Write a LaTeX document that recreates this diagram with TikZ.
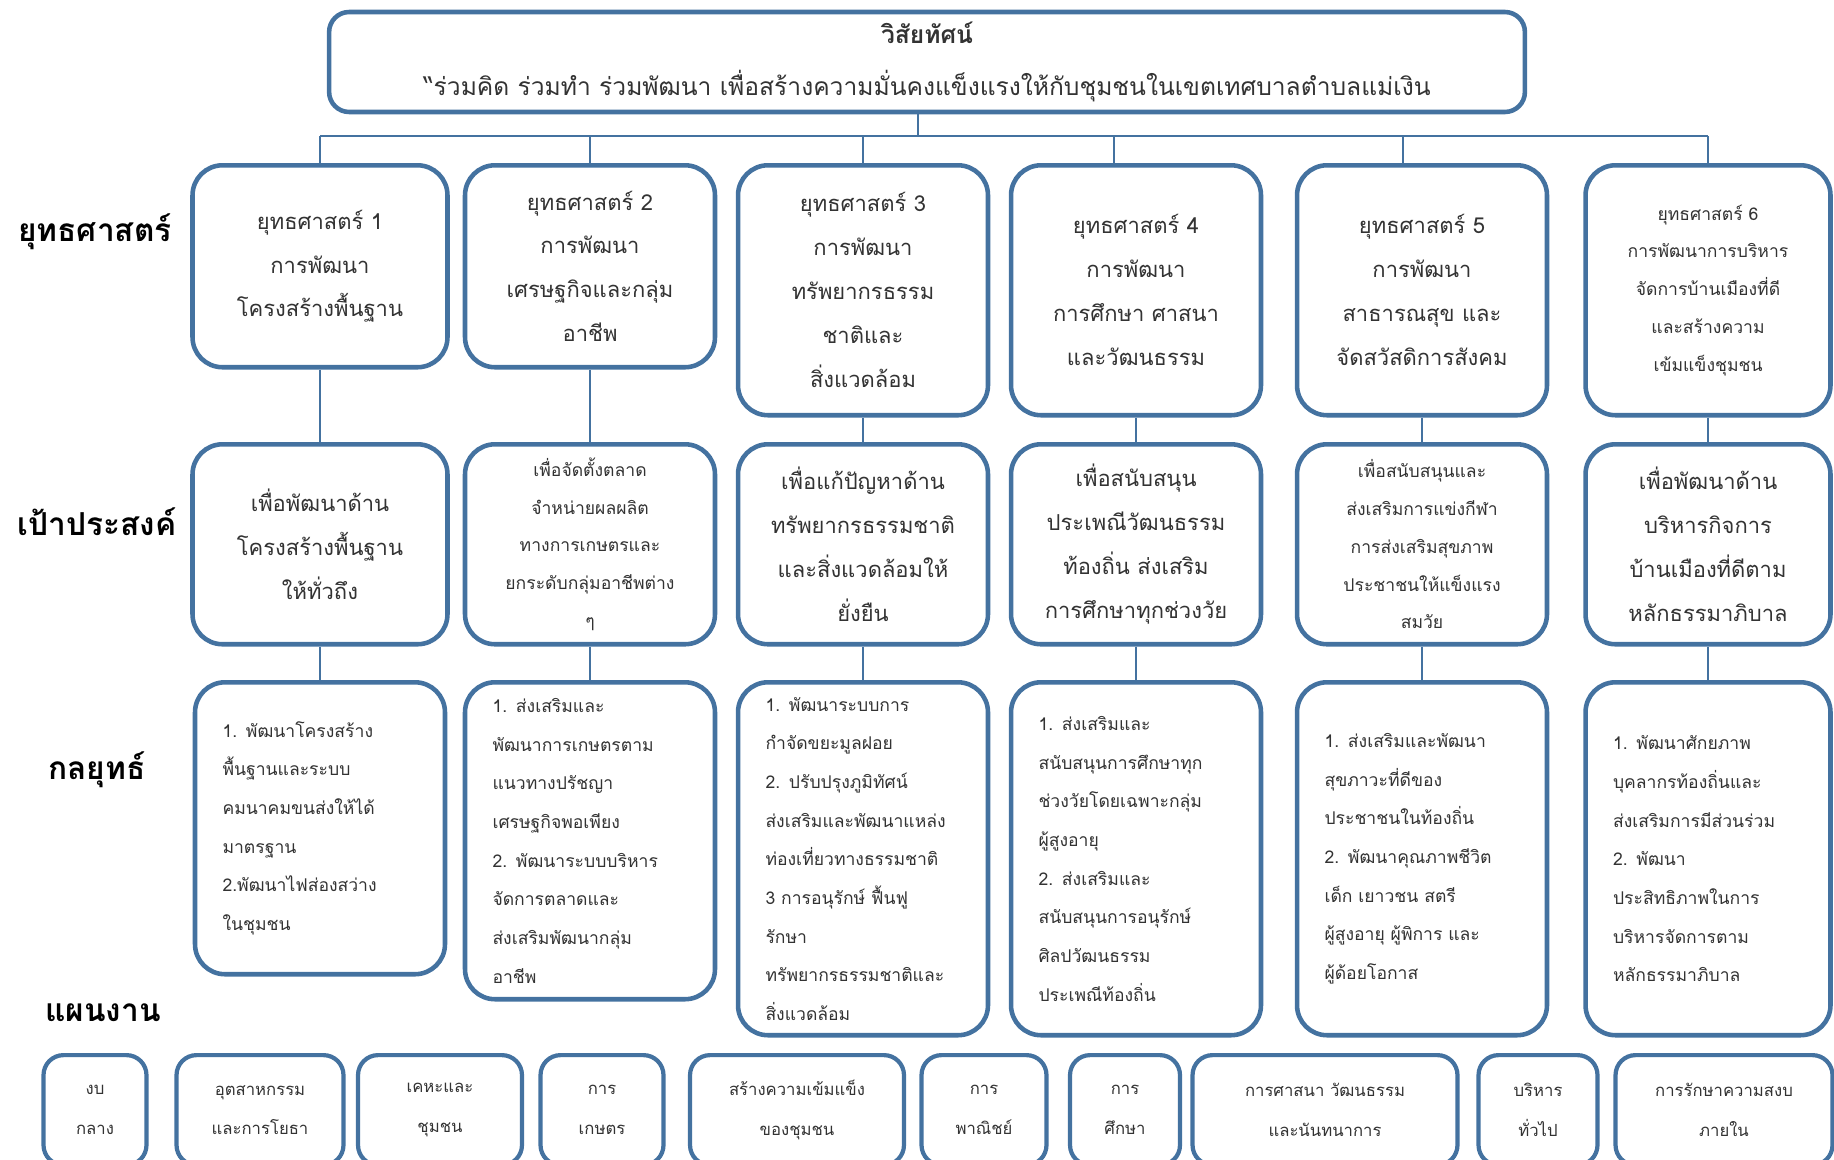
\documentclass[tikz,border=0pt]{standalone}
\usepackage{fontspec}
\setmainfont[Script=Thai]{Loma}
\definecolor{bordure}{RGB}{68,114,160}

\begin{document}
\begin{tikzpicture}[x=0.02cm, y=-0.02cm]
\tikzset{boite/.style={draw=bordure, line width=2.6pt, rounded corners=0.6cm, fill=white, align=center, text=black!80, inner sep=0pt},
grand/.style={font=\fontsize{12.5}{25}\selectfont},
petit/.style={font=\fontsize{10}{21.5}\selectfont},
liste/.style={font=\fontsize{10}{22}\selectfont, align=left, text width=3.9cm, inner xsep=0.55cm},
plan/.style={boite, line width=2.4pt, rounded corners=0.4cm, font=\fontsize{9.5}{22.7}\selectfont, minimum height=2.2cm, anchor=north},
etiquette/.style={font=\bfseries\fontsize{18}{20}\selectfont},
lien/.style={draw=bordure, line width=1.4pt}}
\useasboundingbox (0,0) rectangle (1834,1159);
\clip (0,0) rectangle (1834,1159);
% vision
\node[boite, rounded corners=0.4cm, minimum width=23.92cm, minimum height=2cm, font=\fontsize{14}{30}\selectfont] (V) at (927,62) {\textbf{วิสัยทัศน์}\\“ร่วมคิด ร่วมทำ ร่วมพัฒนา เพื่อสร้างความมั่นคงแข็งแรงให้กับชุมชนในเขตเทศบาลตำบลแม่เงิน};
\coordinate (B) at (918,136);
% labels
\node[etiquette] (L1) at (95,232) {ยุทธศาสตร์};
\node[etiquette] (L2) at (97,522) {เป้าประสงค์};
\node[etiquette] (L3) at (97,770) {กลยุทธ์};
\node[etiquette] (L4) at (103,1013) {แผนงาน};
% strategies
\node[boite, grand, minimum width=5.1cm, minimum height=4.04cm, anchor=north] (S1) at (320,163) {ยุทธศาสตร์ 1\\การพัฒนา\\โครงสร้างพื้นฐาน};
\node[boite, grand, minimum width=5.0cm, minimum height=4.04cm, anchor=north] (S2) at (590,163) {ยุทธศาสตร์ 2\\การพัฒนา\\เศรษฐกิจและกลุ่ม\\อาชีพ};
\node[boite, grand, minimum width=5.0cm, minimum height=5cm, anchor=north] (S3) at (863,163) {ยุทธศาสตร์ 3\\การพัฒนา\\ทรัพยากรธรรม\\ชาติและ\\สิ่งแวดล้อม};
\node[boite, grand, minimum width=5.0cm, minimum height=5cm, anchor=north] (S4) at (1136,163) {ยุทธศาสตร์ 4\\การพัฒนา\\การศึกษา ศาสนา\\และวัฒนธรรม};
\node[boite, grand, minimum width=5.0cm, minimum height=5cm, anchor=north] (S5) at (1422,163) {ยุทธศาสตร์ 5\\การพัฒนา\\สาธารณสุข และ\\จัดสวัสดิการสังคม};
\node[boite, petit, minimum width=4.9cm, minimum height=5cm, anchor=north] (S6) at (1708,163) {ยุทธศาสตร์ 6\\การพัฒนาการบริหาร\\จัดการบ้านเมืองที่ดี\\และสร้างความ\\เข้มแข็งชุมชน};
% goals
\node[boite, grand, minimum width=5.1cm, minimum height=4cm, anchor=north] (G1) at (320,442) {เพื่อพัฒนาด้าน\\โครงสร้างพื้นฐาน\\ให้ทั่วถึง};
\node[boite, petit, minimum width=5.0cm, minimum height=4cm, anchor=north] (G2) at (590,442) {เพื่อจัดตั้งตลาด\\จำหน่ายผลผลิต\\ทางการเกษตรและ\\ยกระดับกลุ่มอาชีพต่าง\\ๆ};
\node[boite, grand, minimum width=5.0cm, minimum height=4cm, anchor=north] (G3) at (863,442) {เพื่อแก้ปัญหาด้าน\\ทรัพยากรธรรมชาติ\\และสิ่งแวดล้อมให้\\ยั่งยืน};
\node[boite, grand, minimum width=5.0cm, minimum height=4cm, anchor=north] (G4) at (1136,442) {เพื่อสนับสนุน\\ประเพณีวัฒนธรรม\\ท้องถิ่น ส่งเสริม\\การศึกษาทุกช่วงวัย};
\node[boite, petit, minimum width=5.0cm, minimum height=4cm, anchor=north] (G5) at (1422,442) {เพื่อสนับสนุนและ\\ส่งเสริมการแข่งกีฬา\\การส่งเสริมสุขภาพ\\ประชาชนให้แข็งแรง\\สมวัย};
\node[boite, grand, minimum width=4.9cm, minimum height=4cm, anchor=north] (G6) at (1708,442) {เพื่อพัฒนาด้าน\\บริหารกิจการ\\บ้านเมืองที่ดีตาม\\หลักธรรมาภิบาล};
% tactics
\node[boite, liste, minimum height=5.84cm, anchor=north] (K1) at (320,680) {1. พัฒนาโครงสร้าง\\พื้นฐานและระบบ\\คมนาคมขนส่งให้ได้\\มาตรฐาน\\2.พัฒนาไฟส่องสว่าง\\ในชุมชน};
\node[boite, liste, minimum height=6.34cm, anchor=north] (K2) at (590,680) {1. ส่งเสริมและ\\พัฒนาการเกษตรตาม\\แนวทางปรัชญา\\เศรษฐกิจพอเพียง\\2. พัฒนาระบบบริหาร\\จัดการตลาดและ\\ส่งเสริมพัฒนากลุ่ม\\อาชีพ};
\node[boite, liste, minimum height=7.06cm, anchor=north] (K3) at (863,680) {1. พัฒนาระบบการ\\กำจัดขยะมูลฝอย\\2. ปรับปรุงภูมิทัศน์\\ส่งเสริมและพัฒนาแหล่ง\\ท่องเที่ยวทางธรรมชาติ\\3 การอนุรักษ์ ฟื้นฟู\\รักษา\\ทรัพยากรธรรมชาติและ\\สิ่งแวดล้อม};
\node[boite, liste, minimum height=7.06cm, anchor=north] (K4) at (1136,680) {1. ส่งเสริมและ\\สนับสนุนการศึกษาทุก\\ช่วงวัยโดยเฉพาะกลุ่ม\\ผู้สูงอายุ\\2. ส่งเสริมและ\\สนับสนุนการอนุรักษ์\\ศิลปวัฒนธรรม\\ประเพณีท้องถิ่น};
\node[boite, liste, minimum height=7.06cm, anchor=north] (K5) at (1422,680) {1. ส่งเสริมและพัฒนา\\สุขภาวะที่ดีของ\\ประชาชนในท้องถิ่น\\2. พัฒนาคุณภาพชีวิต\\เด็ก เยาวชน สตรี\\ผู้สูงอายุ ผู้พิการ และ\\ผู้ด้อยโอกาส};
\node[boite, liste, text width=3.8cm, minimum height=7.06cm, anchor=north] (K6) at (1708,680) {1. พัฒนาศักยภาพ\\บุคลากรท้องถิ่นและ\\ส่งเสริมการมีส่วนร่วม\\2. พัฒนา\\ประสิทธิภาพในการ\\บริหารจัดการตาม\\หลักธรรมาภิบาล};
% plans
\node[plan, minimum width=2.06cm] (P1) at (95,1053) {งบ\\กลาง};
\node[plan, minimum width=3.34cm] (P2) at (260,1053) {อุตสาหกรรม\\และการโยธา};
\node[plan, minimum width=3.28cm] (P3) at (440,1053) {เคหะและ\\ชุมชน};
\node[plan, minimum width=2.46cm] (P4) at (602,1053) {การ\\เกษตร};
\node[plan, minimum width=4.28cm] (P5) at (797,1053) {สร้างความเข้มแข็ง\\ของชุมชน};
\node[plan, minimum width=2.5cm] (P6) at (984,1053) {การ\\พาณิชย์};
\node[plan, minimum width=2.2cm] (P7) at (1125,1053) {การ\\ศึกษา};
\node[plan, minimum width=5.3cm] (P8) at (1325,1053) {การศาสนา วัฒนธรรม\\และนันทนาการ};
\node[plan, minimum width=2.38cm] (P9) at (1538,1053) {บริหาร\\ทั่วไป};
\node[plan, minimum width=4.34cm] (P10) at (1724,1053) {การรักษาความสงบ\\ภายใน};
% connectors
\draw[lien] ([xshift=-0.18cm]V.south) -- ([xshift=-0.18cm]V.south |- B);
\draw[lien] (S1.north |- B) -- (S6.north |- B);
\draw[lien] (S1.north |- B) -- (S1.north);
\draw[lien] (S2.north |- B) -- (S2.north);
\draw[lien] (S3.north |- B) -- (S3.north);
\draw[lien] ([xshift=-0.44cm]S4.north |- B) -- ([xshift=-0.44cm]S4.north);
\draw[lien] ([xshift=-0.38cm]S5.north |- B) -- ([xshift=-0.38cm]S5.north);
\draw[lien] (S6.north |- B) -- (S6.north);
\draw[lien] (S1) -- (G1);
\draw[lien] (S2) -- (G2);
\draw[lien] (S3) -- (G3);
\draw[lien] (S4) -- (G4);
\draw[lien] (S5) -- (G5);
\draw[lien] (S6) -- (G6);
\draw[lien] (G1) -- (K1);
\draw[lien] (G2) -- (K2);
\draw[lien] (G3) -- (K3);
\draw[lien] (G4) -- (K4);
\draw[lien] (G5) -- (K5);
\draw[lien] (G6) -- (K6);
\end{tikzpicture}
\end{document}
